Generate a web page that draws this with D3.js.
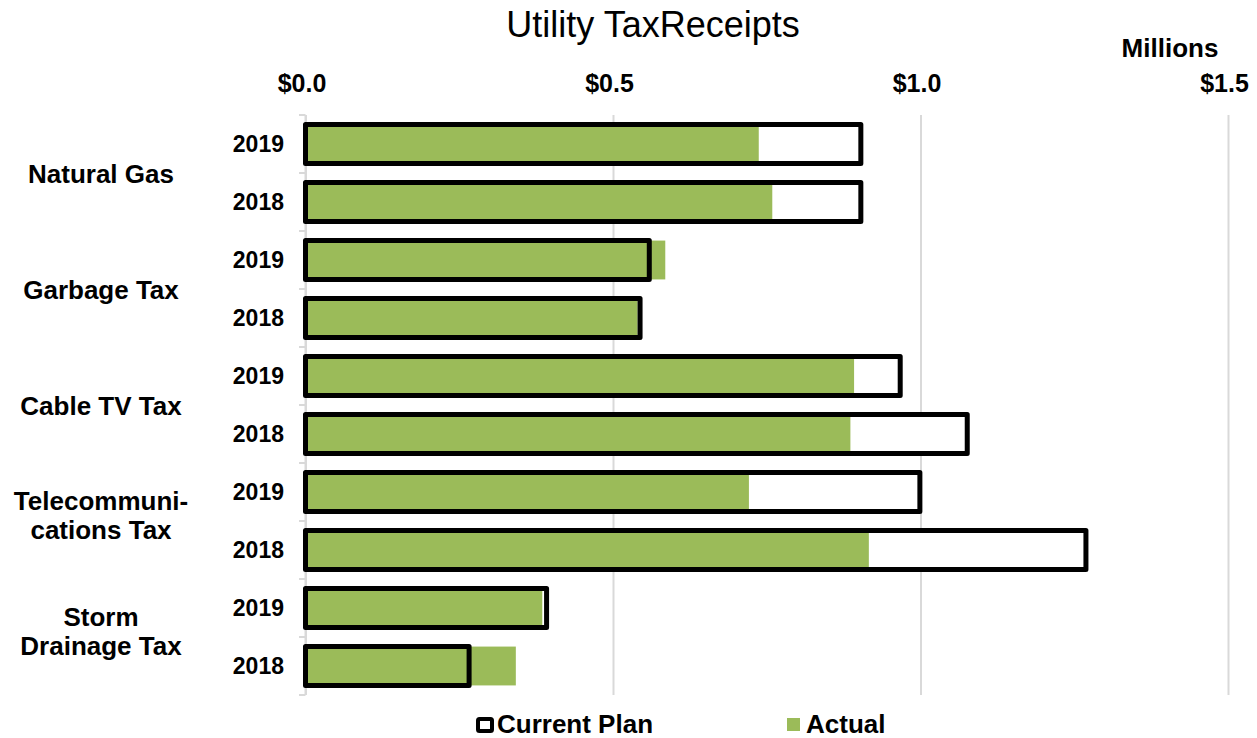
<!DOCTYPE html>
<html>
<head>
<meta charset="utf-8">
<script src="https://cdn.jsdelivr.net/npm/d3@7"></script>
<style>
  body { margin: 0; background: #fff; }
  text { font-family: "Liberation Sans", Arial, sans-serif; fill: #000; }
</style>
</head>
<body>
<script>
const w = 1257;
const h = 738;

// data (values in millions of dollars)
const categories = ['Natural Gas', 'Garbage Tax', 'Cable TV Tax', 'Telecommunications Tax', 'Storm Drainage Tax'];
const categoryLines = [['Natural Gas'], ['Garbage Tax'], ['Cable TV Tax'], ['Telecommuni-', 'cations Tax'], ['Storm', 'Drainage Tax']];
const years = ['2019', '2018'];
const planValues = [0.903, 0.903, 0.559, 0.544, 0.967, 1.076, 0.999, 1.269, 0.392, 0.266];
const actualValues = [0.737, 0.759, 0.585, 0.540, 0.892, 0.886, 0.721, 0.916, 0.385, 0.342];
const xTicks = [0, 0.5, 1.0, 1.5];

const rows = [];
categories.forEach((c, ci) => {
  years.forEach((y, yi) => {
    const i = ci * years.length + yi;
    rows.push({ key: i, category: c, year: y, plan: planValues[i], actual: actualValues[i] });
  });
});

const svg = d3.select('body').append('svg')
  .attr('width', w)
  .attr('height', h);

const xScale = d3.scaleLinear().domain([0, 1.5]).range([305.5, 1228]);
const yScale = d3.scaleBand()
  .domain(rows.map(d => d.key))
  .range([115, 695])
  .paddingInner(0.33)
  .paddingOuter(0.165);

// gridlines
const grid = svg.append('g')
  .attr('transform', 'translate(0, 115)')
  .call(d3.axisBottom(xScale).tickValues(xTicks).tickSize(580).tickFormat(''));
grid.select('.domain').remove();
grid.selectAll('line').attr('stroke', '#d9d9d9').attr('stroke-width', 2);

// top axis labels
const xAxis = svg.append('g')
  .attr('transform', 'translate(0, 92)')
  .call(d3.axisTop(xScale).tickValues(xTicks).tickSize(0).tickPadding(0)
    .tickFormat(d => '$' + d3.format('.1f')(d)));
xAxis.select('.domain').remove();
xAxis.selectAll('text')
  .attr('dx', -4)
  .style('font-size', '25px')
  .style('font-weight', 'bold')
  .style('font-family', '"Liberation Sans", Arial, sans-serif');

svg.append('text')
  .attr('x', 1170)
  .attr('y', 57)
  .attr('text-anchor', 'middle')
  .style('font-size', '26px')
  .style('font-weight', 'bold')
  .text('Millions');

// y axis line and category ticks
const yLine = svg.append('g');
yLine.append('line')
  .attr('x1', 305.5).attr('x2', 305.5)
  .attr('y1', 115).attr('y2', 695)
  .attr('stroke', '#d9d9d9').attr('stroke-width', 2);
const step = yScale.step();
yLine.selectAll('.ytick')
  .data(d3.range(rows.length + 1))
  .enter()
  .append('line')
  .attr('x1', 299).attr('x2', 305.5)
  .attr('y1', i => 115 + i * step)
  .attr('y2', i => 115 + i * step)
  .attr('stroke', '#d9d9d9').attr('stroke-width', 2);

// plan bars (white fill behind)
svg.selectAll('.plan-fill')
  .data(rows)
  .enter()
  .append('rect')
  .attr('x', xScale(0))
  .attr('y', d => yScale(d.key))
  .attr('width', d => xScale(d.plan) - xScale(0))
  .attr('height', yScale.bandwidth())
  .attr('fill', '#fff');

// actual bars
svg.selectAll('.actual')
  .data(rows)
  .enter()
  .append('rect')
  .attr('x', xScale(0))
  .attr('y', d => yScale(d.key))
  .attr('width', d => xScale(d.actual) - xScale(0))
  .attr('height', yScale.bandwidth())
  .attr('fill', '#9bbb59');

// plan outlines
svg.selectAll('.plan')
  .data(rows)
  .enter()
  .append('rect')
  .attr('x', xScale(0))
  .attr('y', d => yScale(d.key))
  .attr('width', d => xScale(d.plan) - xScale(0))
  .attr('height', yScale.bandwidth())
  .attr('fill', 'none')
  .attr('stroke', '#000')
  .attr('stroke-width', 5)
  .attr('stroke-linejoin', 'round');

// year labels
svg.selectAll('.year')
  .data(rows)
  .enter()
  .append('text')
  .attr('x', 284)
  .attr('y', d => yScale(d.key) + yScale.bandwidth() / 2)
  .attr('dy', '0.36em')
  .attr('text-anchor', 'end')
  .style('font-size', '23px')
  .style('font-weight', 'bold')
  .text(d => d.year);

// category labels
categories.forEach((c, ci) => {
  const y0 = 115 + ci * years.length * step;
  const mid = y0 + years.length * step / 2;
  const lines = categoryLines[ci];
  const t = svg.append('text')
    .attr('x', 101)
    .attr('text-anchor', 'middle')
    .style('font-size', '26px')
    .style('font-weight', 'bold');
  if (lines.length === 1) {
    t.attr('y', mid).attr('dy', '0.38em').text(lines[0]);
  } else {
    lines.forEach((l, li) => {
      t.append('tspan')
        .attr('x', 101)
        .attr('y', mid - 11.5 + li * 29)
        .text(l);
    });
  }
});

// title
svg.append('text')
  .attr('x', 653)
  .attr('y', 37)
  .attr('text-anchor', 'middle')
  .style('font-size', '36px')
  .text('Utility TaxReceipts');

// legend
const legend = svg.append('g').attr('id', 'legend');
legend.append('rect')
  .attr('x', 478).attr('y', 719)
  .attr('width', 14).attr('height', 12)
  .attr('fill', '#fff').attr('stroke', '#000').attr('stroke-width', 4)
  .attr('rx', 1.5);
legend.append('text')
  .attr('x', 497).attr('y', 733)
  .style('font-size', '26px').style('font-weight', 'bold')
  .text('Current Plan');
legend.append('rect')
  .attr('x', 787).attr('y', 718)
  .attr('width', 13).attr('height', 13)
  .attr('fill', '#9bbb59');
legend.append('text')
  .attr('x', 806).attr('y', 733)
  .style('font-size', '26px').style('font-weight', 'bold')
  .text('Actual');
</script>
</body>
</html>
